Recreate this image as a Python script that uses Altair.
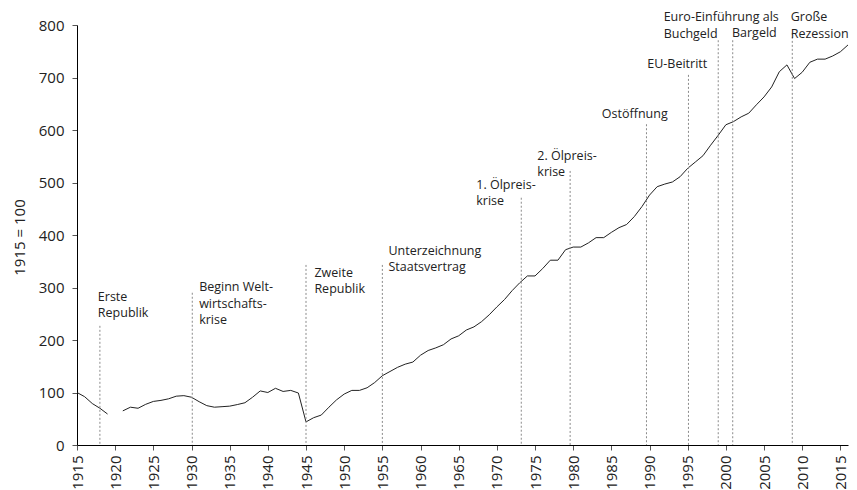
import altair as alt
import pandas as pd

years = list(range(1915, 2017))
index_values = [
    100, 92, 79, 70, 59, None, 65, 72, 70, 77.5,
    83, 85, 88, 93, 94, 91, 82.5, 75, 72, 73,
    74, 77, 80.5, 91, 103, 100, 108, 102, 104, 99,
    44, 52, 57, 72, 86, 97, 104, 104, 109, 119,
    132, 140, 148, 154, 158, 171, 180, 185, 191, 202,
    208, 219, 225, 235, 248, 263, 277, 294, 309, 322,
    322, 336, 352, 352, 372, 377, 377, 385, 395, 395,
    405, 414, 420, 435, 454, 476, 492, 497, 501, 511,
    527, 539, 551, 571, 590, 610, 616, 625, 632, 648,
    663, 682, 711, 724, 698, 710, 729, 735, 735, 741,
    749, 762,
]

event_years = [1918.0, 1930.1, 1945.0, 1955.0, 1973.2, 1979.6, 1989.6, 1995.1, 1999.0, 2000.9, 2008.7]
event_tops = [227, 290, 343, 343, 471, 522, 611, 705, 771, 771, 785]
event_base = [0] * len(event_years)

label_texts = [
    "Erste\nRepublik",
    "Beginn Welt-\nwirtschafts-\nkrise",
    "Zweite\nRepublik",
    "Unterzeichnung\nStaatsvertrag",
    "1. Ölpreis-\nkrise",
    "2. Ölpreis-\nkrise",
    "Ostöffnung",
    "EU-Beitritt",
    "Euro-Einführung als\nBuchgeld",
    "Bargeld",
    "Große\nRezession",
]
label_x = [1917.73, 1931.0, 1946.1, 1955.8, 1967.3, 1975.3, 1983.75, 1989.7, 1991.85, 2000.8, 2008.5]
label_y = [294, 312, 340, 381, 507, 562, 641, 737, 826, 796, 826]

series = pd.DataFrame({"year": years, "value": index_values})
series["segment"] = (series["year"] > 1920).astype(int)
series = series.dropna()

events = pd.DataFrame({"ex": event_years, "etop": event_tops, "ebase": event_base})
labels = pd.DataFrame({"lx": label_x, "ly": label_y, "label": label_texts})

xscale = alt.Scale(domain=[1915, 2016], nice=False, zero=False)
yscale = alt.Scale(domain=[0, 800], nice=False)

xaxis = alt.Axis(values=list(range(1915, 2016, 5)), format="d", labelAngle=-90,
                 labelFontSize=15, tickSize=5, labelPadding=5, title=None,
                 domainColor="#000000", tickColor="#555555", labelColor="#222222",
                 grid=False, labelOverlap=False, labelBound=False, labelFlush=False)
yaxis = alt.Axis(values=list(range(0, 801, 100)), labelFontSize=15, tickSize=5,
                 labelPadding=8, title="1915 = 100", titleFontSize=15,
                 titleFontWeight="normal", titleColor="#222222",
                 titleX=-53, titleY=212, titleBaseline="alphabetic",
                 domainColor="#000000", tickColor="#555555", labelColor="#222222",
                 grid=False, labelOverlap=False)

line = alt.Chart(series).mark_line(color="#222222", strokeWidth=1).encode(
    x=alt.X("year:Q", scale=xscale, axis=xaxis),
    y=alt.Y("value:Q", scale=yscale, axis=yaxis),
    detail="segment:N",
)

rules = alt.Chart(events).mark_rule(color="#8a8a8a", strokeWidth=1, strokeDash=[2, 2]).encode(
    x=alt.X("ex:Q", scale=xscale, axis=xaxis),
    y=alt.Y("etop:Q", scale=yscale, axis=yaxis),
    y2=alt.Y2("ebase:Q"),
)

texts = alt.Chart(labels).mark_text(
    align="left", baseline="top", fontSize=12.5, lineHeight=16.5, lineBreak="\n",
    color="#222222",
).encode(
    x=alt.X("lx:Q", scale=xscale, axis=xaxis),
    y=alt.Y("ly:Q", scale=yscale, axis=yaxis),
    text="label:N",
)

chart = alt.layer(line, rules, texts).properties(
    width=771,
    height=420,
    autosize=alt.AutoSizeParams(type="none"),
    padding={"left": 69, "top": 17, "right": 1, "bottom": 45},
).configure(font="Open Sans").configure_axis(labelOverlap=False).configure_view(stroke=None)

chart.save("out.html", embed_options={"renderer": "svg", "actions": False})
